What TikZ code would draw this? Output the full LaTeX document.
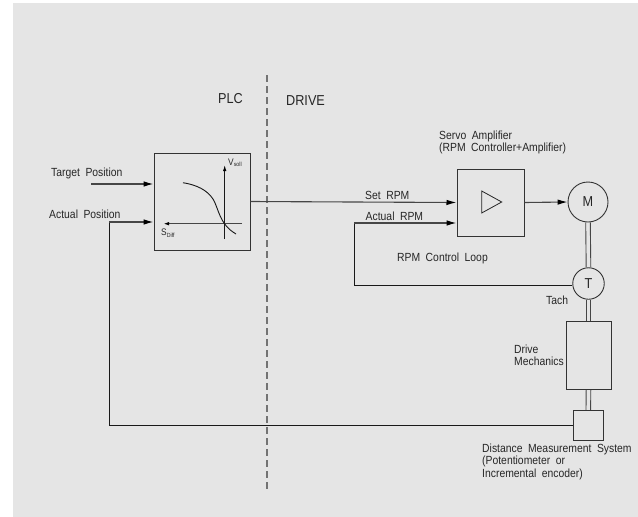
\documentclass[tikz,border=0pt]{standalone}
\usepackage{fontspec}
\setmainfont[FakeStretch=0.88,WordSpace=1.9]{Liberation Sans}
\usepackage{xcolor}
\usetikzlibrary{arrows.meta,positioning,calc}
\definecolor{panelgray}{RGB}{229,229,229}
\definecolor{linegray}{RGB}{70,70,70}
\tikzset{
  lbl/.style={font=\fontsize{11.8}{12.7}\selectfont, align=left, inner sep=0pt, text=black!85},
  sym/.style={font=\fontsize{9.5}{11}\selectfont, inner sep=0pt, text=black!85},
  big/.style={font=\fontsize{14.4}{16}\selectfont, inner sep=0pt, text=black!85},
  box/.style={draw=black!80, line width=1pt, fill=panelgray, inner sep=0pt},
  round/.style={draw=black!80, line width=0.9pt, circle, fill=panelgray, inner sep=0pt, font=\fontsize{14.4}{16}\selectfont, text=black!85},
  arr/.style={-{Latex[length=10pt,width=5.5pt,black]}, line width=1.1pt, draw=linegray},
  wire/.style={line width=1pt, draw=black!90},
  shaft/.style={line width=0.9pt, draw=linegray}
}
\newcommand{\subtxt}[1]{\raisebox{-1.5pt}{\fontsize{6}{7}\selectfont #1}}
\begin{document}
\begin{tikzpicture}[x=1pt,y=-1pt]
  \useasboundingbox (0,0) rectangle (638,517);
  \fill[panelgray] (13,3) rectangle (638,517);
  % divider
  \coordinate (divtop) at (267,75);
  \coordinate (divbot) at (267,490);
  % position loop
  \coordinate (feedback) at (109,222);
  \coordinate (actualin) at (354,223);
  % blocks
  \node[box, minimum width=96pt, minimum height=97pt] (pos) at (202,201.5) {};
  \node[box, minimum width=67pt, minimum height=67pt] (amp) at (490.5,202.5) {};
  \node[round, minimum size=40pt] (motor) at (588,202) {M};
  \node[round, minimum size=31.5pt] (tach) at (588.5,283.5) {T};
  \node[box, minimum width=45pt, minimum height=67.5pt] (mech) at (588.5,355.7) {};
  \node[box, minimum width=30pt, minimum height=30pt] (dist) at (588.3,425.3) {};
  \draw[wire] (dist.west) -- (dist.west -| feedback) -- (feedback);
  \draw[wire] (tach.west |- 0,285.3) -- (actualin |- 0,285.3) -- (actualin);
  \draw[black!55, line width=1.4pt, dash pattern=on 7pt off 4pt] (divtop) -- (divbot);
  \node[big, anchor=west] (plc) at (218,99) {PLC};
  \node[big, anchor=west] (drive) at (286,101) {DRIVE};
  % curve in position box
  \coordinate (vlo) at (224.7,239);
  \coordinate (vhi) at (224.7,165);
  \coordinate (sright) at (242,223.7);
  \coordinate (sleft) at (163,223.7);
  \draw[-{Latex[length=6pt,width=3.5pt,black]}, line width=1pt, black!90] (vlo) -- (vhi);
  \draw[-{Latex[length=6pt,width=3.5pt,black]}, line width=1.2pt, linegray] (sright) -- (sleft);
  \draw[line width=0.9pt, black!90] (183,182.7) .. controls (197,185) and (207,190) .. (213,199) .. controls (219,209) and (219,224) .. (236,234);
  \node[sym, anchor=west] (vsoll) at (228,163) {V\subtxt{soll}};
  \node[sym, anchor=west] (sdiff) at (161,233) {S\subtxt{Diff}};
  % triangle in amplifier
  \draw[line width=0.8pt, black!85] (481.7,191) -- (501.7,202) -- (481.7,213) -- cycle;
  % inputs
  \node[lbl, anchor=west] (target) at (51,173) {Target Position};
  \node[lbl, anchor=west] (actual) at (49,214) {Actual Position};
  \coordinate (targetin) at (91,184);
  \draw[arr] (targetin) -- (targetin -| pos.west);
  \draw[arr] (feedback) -- (feedback -| pos.west);
  % set rpm
  \draw[arr] (pos.east) -- (amp.west);
  \node[lbl, anchor=west] (setrpm) at (365,195) {Set RPM};
  \draw[arr] (actualin) -- (actualin -| amp.west);
  \node[lbl, anchor=west] (actualrpm) at (365.5,216) {Actual RPM};
  \node[lbl, anchor=west] (loop) at (397,258) {RPM Control Loop};
  \draw[arr] (amp.east) -- (motor.west);
  \node[lbl, anchor=west] (servo) at (439,142.5) {Servo Amplifier\\(RPM Controller+Amplifier)};
  % shafts
  \draw[shaft] ([xshift=-2.3pt]motor.south) -- ([xshift=-2.3pt]tach.north);
  \draw[shaft] ([xshift=2.3pt]motor.south) -- ([xshift=2.3pt]tach.north);
  \draw[shaft] ([xshift=-2.3pt]tach.south) -- ([xshift=-2.3pt]mech.north);
  \draw[shaft] ([xshift=2.3pt]tach.south) -- ([xshift=2.3pt]mech.north);
  \draw[shaft] ([xshift=-2.3pt]mech.south) -- ([xshift=-2.3pt]dist.north);
  \draw[shaft] ([xshift=2.3pt]mech.south) -- ([xshift=2.3pt]dist.north);
  \node[lbl, anchor=west] (tachlbl) at (546,300.7) {Tach};
  \node[lbl, anchor=west] (mechlbl) at (514,355.3) {Drive\\Mechanics};
  \node[lbl, anchor=west] (distlbl) at (482,461.7) {Distance Measurement System\\(Potentiometer or\\Incremental encoder)};
\end{tikzpicture}
\end{document}
